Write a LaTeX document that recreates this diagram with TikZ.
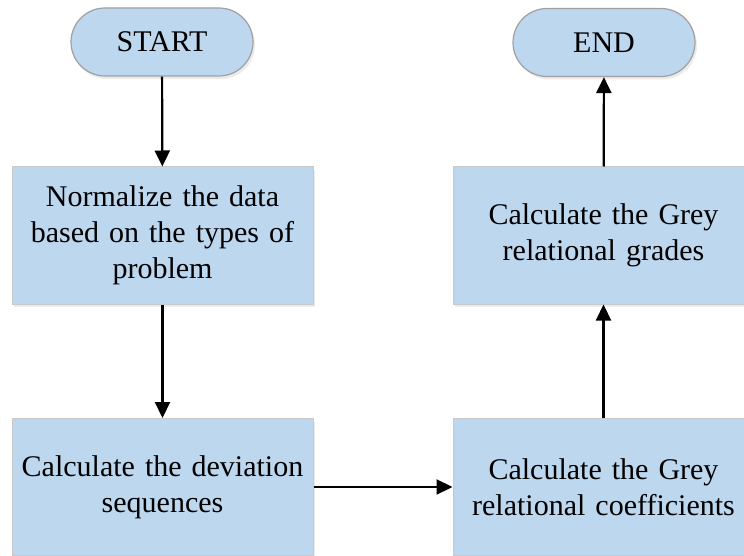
\documentclass[tikz,border=0pt]{standalone}
\usepackage{fontspec}
\setmainfont{Liberation Serif}
\usetikzlibrary{arrows.meta,shadows}
\definecolor{boxfill}{HTML}{BDD7EE}
\definecolor{termedge}{HTML}{A0A0A0}
\definecolor{boxedge}{HTML}{C8C8C8}
\begin{document}
\begin{tikzpicture}[x=1pt,y=-1pt,
  every node/.style={font=\fontsize{30}{36}\selectfont, align=center, inner sep=0pt},
  procbox/.style={rectangle, fill=boxfill, draw=boxedge, line width=1pt,
    minimum width=301pt, minimum height=137pt, text width=296pt,
    drop shadow={shadow xshift=2pt, shadow yshift=-3pt, opacity=0.12, fill=black!60}},
  termbox/.style={rectangle, rounded corners=34pt, fill=boxfill, draw=termedge, line width=1.2pt,
    minimum width=182pt, minimum height=68pt,
    drop shadow={shadow xshift=2pt, shadow yshift=-3pt, opacity=0.12, fill=black!60}},
  flow/.style={line width=2.2pt, -{Triangle[length=16pt,width=15pt]}}]
\useasboundingbox (0,0) rectangle (744,556);
\begin{scope}
\clip (0,0) rectangle (744,556);
\node[termbox] (start) at (162,42) {START};
\node[termbox] (end) at (604,42.5) {END};
\node[procbox] (norm) at (162.5,235.5) {\raisebox{-3pt}{}Normalize the data\\based on the types of\\problem};
\node[procbox] (dev) at (162.5,487) {Calculate the deviation\\sequences};
\node[procbox] (coef) at (603.5,487) {Calculate the Grey\\relational coefficients};
\node[procbox] (grade) at (603.5,235.5) {Calculate the Grey\\relational grades};
\draw[flow] (start) -- (norm);
\draw[flow] (norm) -- (dev);
\draw[flow] (dev) -- (coef);
\draw[flow] (coef) -- (grade);
\draw[flow] (grade) -- (end);
\end{scope}
\end{tikzpicture}
\end{document}
